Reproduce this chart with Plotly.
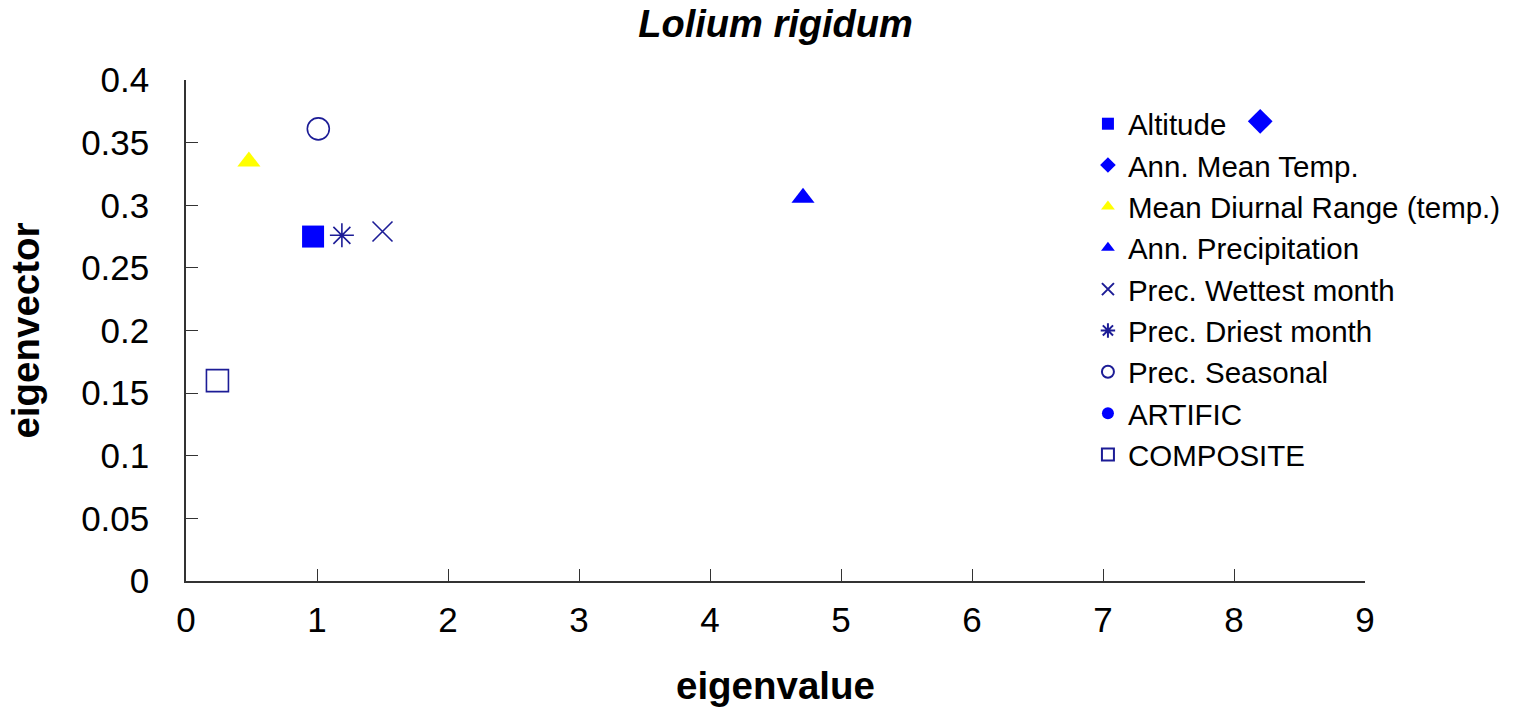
import plotly.graph_objects as go

# Eigenvalue / eigenvector pairs for each environmental variable
names = [
    "Altitude",
    "Ann. Mean Temp.",
    "Mean Diurnal Range (temp.)",
    "Ann. Precipitation",
    "Prec. Wettest month",
    "Prec. Driest month",
    "Prec. Seasonal",
    "ARTIFIC",
    "COMPOSITE",
]
eigenvalue = [0.97, 8.2, 0.48, 4.71, 1.5, 1.19, 1.01, None, 0.24]
eigenvector = [0.275, 0.367, 0.335, 0.306, 0.279, 0.276, 0.361, None, 0.16]

x_ticks = [0, 1, 2, 3, 4, 5, 6, 7, 8, 9]
y_ticks = [0, 0.05, 0.1, 0.15, 0.2, 0.25, 0.3, 0.35, 0.4]
y_tick_text = ["0", "0.05", "0.1", "0.15", "0.2", "0.25", "0.3", "0.35", "0.4"]

BLUE = "#0000FF"
NAVY = "#1c1c96"
styles = [
    dict(symbol="square", size=22, color=BLUE, line=dict(width=0)),
    dict(symbol="diamond", size=19, color=BLUE, line=dict(width=0)),
    dict(symbol="triangle-up", size=20, color="#FFFF00", line=dict(width=0)),
    dict(symbol="triangle-up", size=20, color=BLUE, line=dict(width=0)),
    dict(symbol="x-thin-open", size=20, color=NAVY, line=dict(width=1.6, color=NAVY)),
    dict(symbol="asterisk-open", size=20, color=NAVY, line=dict(width=1.6, color=NAVY)),
    dict(symbol="circle-open", size=22, color=NAVY, line=dict(width=1.6, color=NAVY)),
    dict(symbol="circle", size=18, color=BLUE, line=dict(width=0)),
    dict(symbol="square-open", size=22, color=NAVY, line=dict(width=1.6, color=NAVY)),
]

fig = go.Figure()
for name, xv, yv, st in zip(names, eigenvalue, eigenvector, styles):
    fig.add_trace(go.Scatter(x=[xv], y=[yv], mode="markers", name=name, marker=st))

font_family = "Arial, Liberation Sans, sans-serif"
fig.update_layout(
    width=1521, height=708,
    margin=dict(l=186, r=156, t=80, b=127, autoexpand=False),
    paper_bgcolor="white", plot_bgcolor="white",
    font=dict(family=font_family, color="black"),
    title=dict(
        text="Lolium rigidum", x=0.5, xanchor="center", y=0.966, yanchor="middle",
        xref="paper",
        font=dict(size=38, family=font_family, weight="bold", style="italic", color="black"),
    ),
    showlegend=True,
    legend=dict(
        x=0.765, xanchor="left", y=0.964, yanchor="top",
        font=dict(size=29.5, family=font_family, color="black"),
        bgcolor="rgba(0,0,0,0)", tracegroupgap=0,
        itemsizing="constant", itemwidth=30,
    ),
)
fig.update_xaxes(
    range=[0, 9], tickvals=x_ticks, ticks="inside", ticklen=12, tickwidth=1,
    tickcolor="#333", showline=True, linecolor="#333", linewidth=1.5,
    showgrid=False, zeroline=False, tickfont=dict(size=35), ticklabelstandoff=7,
    automargin=False,
    title=dict(text="eigenvalue", font=dict(size=38.5, weight="bold"), standoff=34),
)
fig.update_yaxes(
    range=[0, 0.4], tickvals=y_ticks, ticktext=y_tick_text, ticks="inside",
    ticklen=12, tickwidth=1, tickcolor="#333", showline=True, linecolor="#333",
    linewidth=1.5, showgrid=False, zeroline=False, tickfont=dict(size=35),
    ticklabelstandoff=28, automargin=False,
    title=dict(text="eigenvector", font=dict(size=38.5, weight="bold"), standoff=30),
)

fig.write_html("out.html")
